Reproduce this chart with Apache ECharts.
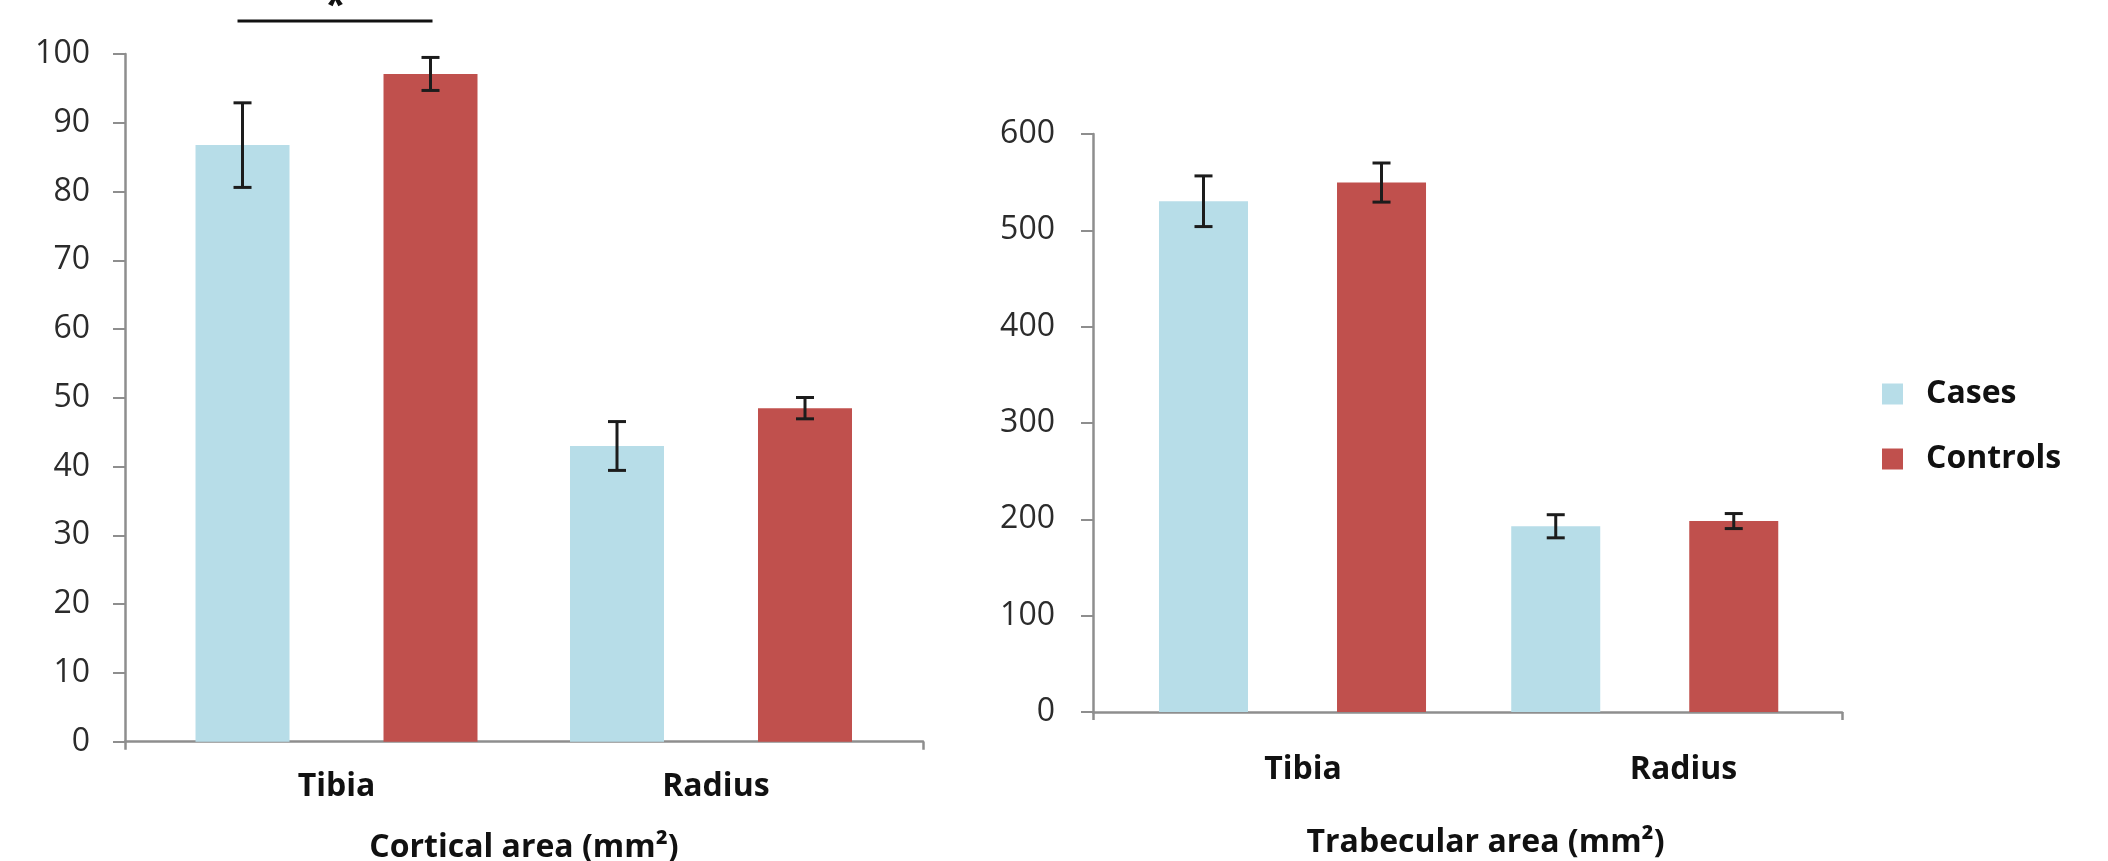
<!DOCTYPE html>
<html><head><meta charset="utf-8">
<script src="https://cdn.jsdelivr.net/npm/echarts@6/dist/echarts.min.js"></script>
<style>html,body{margin:0;padding:0;background:#fff}#c{width:2108px;height:861px}</style>
</head><body><div id="c"></div>
<script>
// ---- data ----
const categories = ['Tibia', 'Radius'];
const seriesNames = ['Cases', 'Controls'];
const corticalCases = [86.75, 43.0];
const corticalCasesErr = [6.15, 3.55];
const corticalControls = [97.1, 48.5];
const corticalControlsErr = [2.4, 1.55];
const trabecularCases = [530.2, 192.8];
const trabecularCasesErr = [26.3, 12];
const trabecularControls = [549.6, 198.2];
const trabecularControlsErr = [20.3, 7.8];
const corticalTicks = [0, 10, 20, 30, 40, 50, 60, 70, 80, 90, 100];
const trabecularTicks = [0, 100, 200, 300, 400, 500, 600];
const titles = ['Cortical area (mm²)', 'Trabecular area (mm²)'];
const sigCategory = 0, sigLevel = 104.8, sigLabel = '*';

// ---- style ----
const FONT = '"Open Sans", "Noto Sans", sans-serif';
const AX = '#8e8e8e';
const COLORS = ['#b7dde8', '#c0504d'];
const BAR_FRAC = [0.251, 0.2527];

const chart = echarts.init(document.getElementById('c'), null, {renderer: 'canvas'});

function pairs(vals, errs) { return vals.map((v, i) => errs ? [i, v, errs[i]] : [i, v]); }

function errRender(frac, sign) {
  return function (params, api) {
    const x = api.value(0), m = api.value(1), e = api.value(2);
    const off = api.size([1, 0])[0] * frac * sign;
    const hi = api.coord([x, m + e]), lo = api.coord([x, m - e]);
    const cx = hi[0] + off, cap = 9;
    const st = {stroke: '#1c1c1c', lineWidth: 3};
    return {type: 'group', children: [
      {type: 'line', shape: {x1: cx, y1: hi[1], x2: cx, y2: lo[1]}, style: st},
      {type: 'line', shape: {x1: cx - cap, y1: hi[1], x2: cx + cap, y2: hi[1]}, style: st},
      {type: 'line', shape: {x1: cx - cap, y1: lo[1], x2: cx + cap, y2: lo[1]}, style: st}
    ]};
  };
}

function sigRender(frac) {
  return function (params, api) {
    const x = api.value(0), lvl = api.value(1);
    const p = api.coord([x, lvl]);
    const off = api.size([1, 0])[0] * frac;
    return {type: 'group', children: [
      {type: 'line', shape: {x1: p[0] - off - 5, y1: p[1], x2: p[0] + off + 2, y2: p[1]},
        style: {stroke: '#111', lineWidth: 3}},
      {type: 'text', style: {x: p[0] - 1, y: p[1] + 6, text: sigLabel, align: 'center', verticalAlign: 'bottom',
        font: 'bold 40px ' + FONT, fill: '#111'}}
    ]};
  };
}

function xAxis(gridIndex, min, max, labelPos, labelMargin, name, nameGap, namePad) {
  return {
    type: 'value', gridIndex, min, max,
    splitLine: {show: false},
    axisLine: {show: true, onZero: false, lineStyle: {color: AX, width: 2.5}},
    axisTick: {show: true, customValues: [min, max], length: 8, lineStyle: {color: AX, width: 2.5}},
    axisLabel: {customValues: labelPos, margin: labelMargin,
      formatter: v => categories[Math.round(v)],
      fontFamily: FONT, fontSize: 32, fontWeight: 'bold', color: '#111'},
    name, nameLocation: 'middle', nameGap,
    nameTextStyle: {fontFamily: FONT, fontSize: 32, fontWeight: 'bold', color: '#111', padding: namePad}
  };
}

function yAxis(gridIndex, ticks, margin) {
  return {
    type: 'value', gridIndex, min: ticks[0], max: ticks[ticks.length - 1],
    interval: ticks[1] - ticks[0],
    splitLine: {show: false},
    axisLine: {show: true, onZero: false, lineStyle: {color: AX, width: 2.5}},
    axisTick: {show: true, length: 12, lineStyle: {color: AX, width: 2}},
    axisLabel: {margin, fontFamily: FONT, fontSize: 32, color: '#2b2b2b'}
  };
}

const option = {
  backgroundColor: '#fff',
  animation: false,
  grid: [
    {left: 125, top: 54, width: 798, height: 687.7, outerBoundsMode: 'none', containLabel: false},
    {left: 1093, top: 134, width: 749, height: 578, outerBoundsMode: 'none', containLabel: false}
  ],
  xAxis: [
    xAxis(0, -0.5648, 1.5661, [0, 1.013], 29, titles[0], 90, [0, 0, 0, 0]),
    xAxis(1, -0.5664, 1.56, [0.03, 1.11], 42, titles[1], 115, [0, 0, 0, 36])
  ],
  yAxis: [yAxis(0, corticalTicks, 35), yAxis(1, trabecularTicks, 38)],
  legend: {
    data: seriesNames, orient: 'vertical', left: 1877, top: 373,
    icon: 'rect', itemWidth: 21, itemHeight: 21, itemGap: 33,
    textStyle: {fontFamily: FONT, fontSize: 32, fontWeight: 'bold', color: '#111', lineHeight: 32, padding: [0, 0, 0, 18]}
  },
  series: [
    {name: seriesNames[0], type: 'bar', xAxisIndex: 0, yAxisIndex: 0, data: pairs(corticalCases),
      barWidth: (BAR_FRAC[0] * 100) + '%', barGap: '100%', itemStyle: {color: COLORS[0]}},
    {name: seriesNames[1], type: 'bar', xAxisIndex: 0, yAxisIndex: 0, data: pairs(corticalControls),
      barWidth: (BAR_FRAC[0] * 100) + '%', barGap: '100%', itemStyle: {color: COLORS[1]}},
    {name: seriesNames[0], type: 'bar', xAxisIndex: 1, yAxisIndex: 1, data: pairs(trabecularCases),
      barWidth: (BAR_FRAC[1] * 100) + '%', barGap: '100%', itemStyle: {color: COLORS[0]}},
    {name: seriesNames[1], type: 'bar', xAxisIndex: 1, yAxisIndex: 1, data: pairs(trabecularControls),
      barWidth: (BAR_FRAC[1] * 100) + '%', barGap: '100%', itemStyle: {color: COLORS[1]}},
    {name: 'errA', type: 'custom', xAxisIndex: 0, yAxisIndex: 0, z: 5, clip: false,
      renderItem: errRender(BAR_FRAC[0], -1), data: pairs(corticalCases, corticalCasesErr)},
    {name: 'errB', type: 'custom', xAxisIndex: 0, yAxisIndex: 0, z: 5, clip: false,
      renderItem: errRender(BAR_FRAC[0], 1), data: pairs(corticalControls, corticalControlsErr)},
    {name: 'errC', type: 'custom', xAxisIndex: 1, yAxisIndex: 1, z: 5, clip: false,
      renderItem: errRender(BAR_FRAC[1], -1), data: pairs(trabecularCases, trabecularCasesErr)},
    {name: 'errD', type: 'custom', xAxisIndex: 1, yAxisIndex: 1, z: 5, clip: false,
      renderItem: errRender(BAR_FRAC[1], 1), data: pairs(trabecularControls, trabecularControlsErr)},
    {name: 'sig', type: 'custom', xAxisIndex: 0, yAxisIndex: 0, z: 5, clip: false,
      renderItem: sigRender(BAR_FRAC[0]), data: [[sigCategory, sigLevel]]}
  ]
};
chart.setOption(option);
</script></body></html>
